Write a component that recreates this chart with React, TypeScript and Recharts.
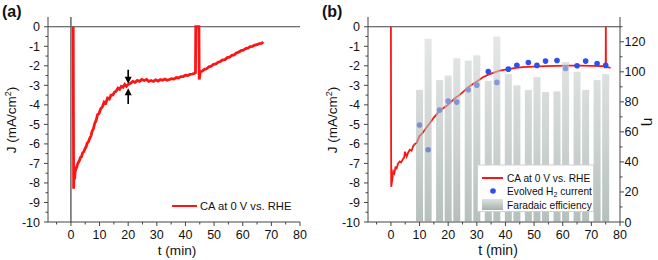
import { Bar, ComposedChart, Line, ReferenceLine, Scatter, XAxis, YAxis } from 'recharts'

// panel (a): chronoamperometry, t in min, J in mA/cm2
const caTimeA = [
  0.8, 0.95, 1.1, 1.3, 1.5, 1.7, 2.0, 2.3, 2.6, 3.0, 3.3, 3.7, 4.1, 4.5, 4.9, 5.3, 5.7, 6.1, 6.6, 7.0,
  7.4, 7.8, 8.3, 8.8, 9.3, 9.8, 10.4, 11.0, 11.6, 12.2, 12.8, 13.4, 14.0, 14.6, 15.2, 15.8, 16.4, 17.0,
  17.6, 18.2, 18.8, 19.4, 20.0, 20.8, 21.6, 22.4, 23.2, 24.0, 24.8, 25.6, 26.4, 27.2, 28.0, 28.8, 29.6,
  30.4, 31.2, 32.0, 32.8, 33.6, 34.4, 35.2, 36.0, 36.8, 37.6, 38.4, 39.2, 40.0, 40.8, 41.6, 42.4, 43.2,
  43.5, 43.6, 44.7, 44.8, 45.2, 45.8, 46.6, 47.4, 48.2, 49.0, 49.8, 50.6, 51.4, 52.2, 53.0, 53.8, 54.6,
  55.4, 56.2, 57.0, 57.8, 58.6, 59.4, 60.2, 61.0, 61.8, 62.6, 63.4, 64.2, 65.0, 65.8, 66.6, 67.2,
]
const caCurrentA = [
  0, -8.3, -7.6, -7.8, -7.4, -7.3, -7.2, -7.05, -6.95, -6.85, -6.7, -6.65, -6.45, -6.4, -6.25, -6.15,
  -5.95, -5.9, -5.7, -5.6, -5.35, -5.25, -4.95, -4.8, -4.5, -4.45, -4.2, -4.1, -3.85, -3.9, -3.65, -3.7,
  -3.5, -3.5, -3.35, -3.3, -3.15, -3.2, -3.05, -3.1, -2.95, -3.05, -2.95, -2.9, -2.8, -2.85, -2.75, -2.8,
  -2.7, -2.75, -2.7, -2.8, -2.75, -2.8, -2.72, -2.78, -2.7, -2.74, -2.68, -2.74, -2.7, -2.66, -2.68, -2.6,
  -2.62, -2.55, -2.55, -2.48, -2.5, -2.44, -2.42, -2.38, -2.35, 0, 0, -2.7, -2.3, -2.28, -2.18, -2.15,
  -2.05, -2.02, -1.92, -1.9, -1.82, -1.78, -1.7, -1.68, -1.58, -1.56, -1.46, -1.44, -1.34, -1.3, -1.22,
  -1.2, -1.12, -1.1, -1.02, -1.0, -0.94, -0.92, -0.86, -0.85, -0.78,
]

// panel (b): chronoamperometry + GC sampling
const caTimeB = [
  0, 0.1, 0.5, 0.8, 1.2, 1.6, 2.0, 2.5, 3.1, 3.6, 4.1, 4.6, 4.9, 5.5, 6.0, 6.6, 7.2, 7.8, 8.4, 9.0, 10,
  11, 12.5, 14, 15, 16.5, 18, 19.5, 21, 22.5, 24, 25.5, 27, 28.5, 30, 32, 34, 36, 38, 40, 43, 46, 50, 54,
  58, 62, 66, 70, 74, 75, 75.05, 75.1, 76.7,
]
const caCurrentB = [
  0, -8.2, -7.8, -7.4, -7.5, -7.2, -7.25, -7.0, -6.9, -6.95, -6.8, -6.7, -6.4, -6.65, -6.45, -6.3, -6.35,
  -6.1, -6.0, -5.95, -5.6, -5.45, -5.15, -4.85, -4.65, -4.4, -4.2, -4.05, -3.85, -3.65, -3.49, -3.3, -3.1,
  -2.95, -2.8, -2.6, -2.45, -2.35, -2.25, -2.2, -2.12, -2.07, -2.04, -2.02, -2.0, -1.99, -1.99, -2.0,
  -2.02, -2.03, 0, -2.05, -2.1,
]
const gcTime = [10, 13, 17, 20, 23, 27, 30, 34, 37, 41, 44, 48, 51, 54, 58, 61, 65, 68, 72, 75]
const h2Current = [
  -5.03, -6.3, -4.26, -3.81, -3.86, -3.23, -2.99, -2.29, -2.85, -2.17, -1.97, -1.83, -1.98, -1.76, -1.73,
  -2.14, -2.0, -1.76, -1.88, -1.98,
]
const faradaicEff = [
  88, 122, 94.5, 97.5, 109, 107.5, 111, 94, 123.5, 98.5, 91, 88, 96.5, 86.5, 87, 106.5, 100, 88, 94.5, 98.5,
]

const xTicks = [-5, 0, 5, 10, 15, 20, 25, 30, 35, 40, 45, 50, 55, 60, 65, 70, 75, 80]
const jTicks = [-10, -9.5, -9, -8.5, -8, -7.5, -7, -6.5, -6, -5.5, -5, -4.5, -4, -3.5, -3, -2.5, -2, -1.5, -1, -0.5, 0]
const etaTicks = [0, 10, 20, 30, 40, 50, 60, 70, 80, 90, 100, 110, 120, 130]

const rowsA = caTimeA.map((t, i) => ({ t, j: caCurrentA[i] }))
const rowsB = caTimeB.map((t, i) => ({ t, j: caCurrentB[i] }))
const rowsGC = gcTime.map((t, i) => ({ t, h2: h2Current[i], eta: faradaicEff[i] }))

const FONT = 'Arial, "Liberation Sans", sans-serif'
const AXIS = '#444'
const RED = '#ff1414'
const BLUE = '#2c4ff0'
const BAR_W = 7

const XTick = (p: any) => {
  const major = p.payload.value % 10 === 0
  return (
    <g>
      <line x1={p.x} y1={p.y} x2={p.x} y2={p.y + (major ? 4 : 2.5)} stroke={AXIS} />
      {major && (
        <text x={p.x} y={p.y + 17} textAnchor="middle" fontSize={12.5} fontFamily={FONT} fill="#111">
          {p.payload.value}
        </text>
      )}
    </g>
  )
}

const JTick = (p: any) => {
  const major = Number.isInteger(p.payload.value)
  return (
    <g>
      <line x1={p.x} y1={p.y} x2={p.x - (major ? 4 : 2.5)} y2={p.y} stroke={AXIS} />
      {major && (
        <text x={p.x - 8} y={p.y + 4.5} textAnchor="end" fontSize={12.5} fontFamily={FONT} fill="#111">
          {p.payload.value}
        </text>
      )}
    </g>
  )
}

const EtaTick = (p: any) => {
  const major = p.payload.value % 20 === 0
  return (
    <g>
      <line x1={p.x} y1={p.y} x2={p.x + (major ? 4 : 2.5)} y2={p.y} stroke={AXIS} />
      {major && (
        <text x={p.x + 4.5} y={p.y + 4.5} textAnchor="start" fontSize={12.5} fontFamily={FONT} fill="#111">
          {p.payload.value}
        </text>
      )}
    </g>
  )
}

const Arrow = (p: any) => {
  const { x1, y1, x2, y2 } = p
  const d = y2 > y1 ? 1 : -1
  return (
    <g>
      <line x1={x1} y1={y1} x2={x2} y2={y2 - d * 5} stroke="#000" strokeWidth={1.6} />
      <path d={`M${x2 - 3.5},${y2 - d * 7} L${x2 + 3.5},${y2 - d * 7} L${x2},${y2} Z`} fill="#000" />
    </g>
  )
}

// fixed-width bar centred on its time value (number axis gives a tiny band)
const FEBar = (p: any) => {
  if (!p.height) return <g />
  const cx = p.x + p.width / 2
  return (
    <rect
      x={cx - BAR_W / 2}
      y={p.y}
      width={BAR_W}
      height={p.height}
      fill="url(#feGrad)"
      fillOpacity={0.6}
    />
  )
}

function PanelA() {
  return (
    <ComposedChart width={330} height={260} data={rowsA} margin={{ top: 17, right: 30, bottom: 0, left: 0 }}>
      <XAxis
        type="number"
        dataKey="t"
        domain={[-8, 80]}
        ticks={xTicks}
        interval={0}
        allowDataOverflow
        height={38}
        tickSize={0}
        tickMargin={0}
        tickLine={false}
        axisLine={{ stroke: AXIS }}
        tick={(p: any) => <XTick {...p} />}
      />
      <YAxis
        type="number"
        domain={[-10, 0.5]}
        ticks={jTicks}
        interval={0}
        allowDataOverflow
        width={48}
        tickSize={0}
        tickMargin={0}
        tickLine={false}
        axisLine={{ stroke: AXIS }}
        tick={(p: any) => <JTick {...p} />}
      />
      <ReferenceLine y={0} stroke={AXIS} />
      <ReferenceLine x={0} stroke="#666" strokeWidth={1.5} />
      <Line type="linear" dataKey="j" stroke={RED} strokeWidth={2.8} dot={false} isAnimationActive={false} />
      <ReferenceLine segment={[{ x: 20, y: -2.2 }, { x: 20, y: -2.92 }]} shape={(p: any) => <Arrow {...p} />} />
      <ReferenceLine segment={[{ x: 20, y: -3.95 }, { x: 20, y: -3.15 }]} shape={(p: any) => <Arrow {...p} />} />
    </ComposedChart>
  )
}

function PanelB() {
  return (
    <ComposedChart width={338} height={260} data={rowsGC} margin={{ top: 17, right: 0, bottom: 0, left: 0 }}>
      <defs>
        <linearGradient id="feGrad" x1="0" y1="17" x2="0" y2="222" gradientUnits="userSpaceOnUse">
          <stop offset="0" stopColor="#dadedd" />
          <stop offset="0.55" stopColor="#b0bab7" />
          <stop offset="1" stopColor="#849590" />
        </linearGradient>
      </defs>
      <XAxis
        type="number"
        dataKey="t"
        domain={[-8, 80]}
        ticks={xTicks}
        interval={0}
        allowDataOverflow
        height={38}
        tickSize={0}
        tickMargin={0}
        tickLine={false}
        axisLine={{ stroke: AXIS }}
        tick={(p: any) => <XTick {...p} />}
      />
      <YAxis
        yAxisId="left"
        type="number"
        domain={[-10, 0.5]}
        ticks={jTicks}
        interval={0}
        allowDataOverflow
        width={48}
        tickSize={0}
        tickMargin={0}
        tickLine={false}
        axisLine={{ stroke: AXIS }}
        tick={(p: any) => <JTick {...p} />}
      />
      <YAxis
        yAxisId="right"
        orientation="right"
        type="number"
        domain={[0, 136.5]}
        ticks={etaTicks}
        interval={0}
        allowDataOverflow
        width={38}
        tickSize={0}
        tickMargin={0}
        tickLine={false}
        axisLine={{ stroke: AXIS }}
        tick={(p: any) => <EtaTick {...p} />}
      />
      <ReferenceLine yAxisId="left" y={0} stroke={AXIS} />
      <Line
        yAxisId="left"
        data={rowsB}
        type="linear"
        dataKey="j"
        stroke={RED}
        strokeWidth={1.8}
        dot={false}
        isAnimationActive={false}
      />
      <Scatter
        yAxisId="left"
        data={rowsGC}
        dataKey="h2"
        fill={BLUE}
        isAnimationActive={false}
        shape={(p: any) => <circle cx={p.cx} cy={p.cy} r={2.8} fill={BLUE} />}
      />
      <Bar
        yAxisId="right"
        dataKey="eta"
        fill="url(#feGrad)"
        isAnimationActive={false}
        shape={(p: any) => <FEBar {...p} />}
        {...({ zIndex: 700 } as any)}
      />
    </ComposedChart>
  )
}

function Overlay() {
  return (
    <svg
      width={658}
      height={260}
      style={{ position: 'absolute', left: 0, top: 0, pointerEvents: 'none' }}
      fontFamily={FONT}
    >
      <defs>
        <linearGradient id="feSwatch" x1="0" y1="0" x2="0" y2="1">
          <stop offset="0" stopColor="#dfe3e1" />
          <stop offset="1" stopColor="#a5b1ad" />
        </linearGradient>
      </defs>
      <text x={2} y={17} fontSize={16} fontWeight="bold" fill="#111">(a)</text>
      <text x={322} y={17} fontSize={16} fontWeight="bold" fill="#111">(b)</text>

      <text x={16} y={120} fontSize={13.5} textAnchor="middle" transform="rotate(-90 16 120)" fill="#111">
        J (mA/cm<tspan fontSize={9} dy={-5}>2</tspan><tspan dy={5}>)</tspan>
      </text>
      <text x={337} y={120} fontSize={13.5} textAnchor="middle" transform="rotate(-90 337 120)" fill="#111">
        J (mA/cm<tspan fontSize={9} dy={-5}>2</tspan><tspan dy={5}>)</tspan>
      </text>
      <text x={644} y={122} fontSize={15} textAnchor="middle" transform="rotate(90 644 122)" fill="#111">η</text>

      <text x={177} y={255} fontSize={13.6} textAnchor="middle" fill="#111">t (min)</text>
      <text x={498} y={255} fontSize={14} textAnchor="middle" fill="#111">t (min)</text>

      <line x1={172} y1={206} x2={197} y2={206} stroke={RED} strokeWidth={2} />
      <text x={200} y={210} fontSize={11.2} fill="#111">CA at 0 V vs. RHE</text>

      <rect x={477.5} y={165} width={116} height={46.5} fill="#fff" stroke="#d0d0d0" />
      <line x1={482} y1={178} x2={503} y2={178} stroke={RED} strokeWidth={2} />
      <text x={507} y={181.5} fontSize={10.2} fill="#111">CA at 0 V vs. RHE</text>
      <circle cx={493} cy={191} r={2.8} fill={BLUE} />
      <text x={507} y={195} fontSize={10.2} fill="#111">
        Evolved H<tspan fontSize={7} dy={2}>2</tspan><tspan dy={-2}> current</tspan>
      </text>
      <rect x={482} y={199} width={21} height={11} fill="url(#feSwatch)" />
      <text x={507} y={208.5} fontSize={10.2} fill="#111">Faradaic efficiency</text>
    </svg>
  )
}

export default function App() {
  return (
    <div style={{ position: 'absolute', left: 0, top: 0, width: 658, height: 260, background: '#fff' }}>
      <div style={{ position: 'absolute', left: 0, top: 0 }}>
        <PanelA />
      </div>
      <div style={{ position: 'absolute', left: 320, top: 0 }}>
        <PanelB />
      </div>
      <Overlay />
    </div>
  )
}
